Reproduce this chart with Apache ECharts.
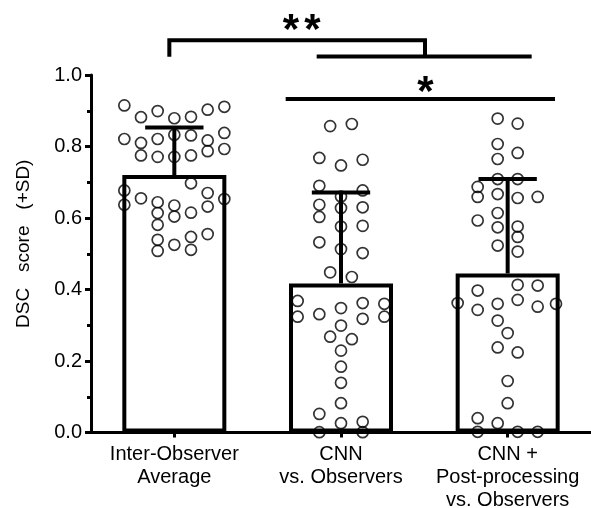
<!DOCTYPE html>
<html>
<head>
<meta charset="utf-8">
<script src="https://cdn.jsdelivr.net/npm/echarts@6/dist/echarts.min.js"></script>
<style>html,body{margin:0;padding:0;background:#fff}#c{width:591px;height:508px}</style>
</head>
<body>
<div id="c"></div>
<script>
// ---- data ----
const categories = ['Inter-Observer\nAverage', 'CNN\nvs. Observers', 'CNN +\nPost-processing\nvs. Observers'];
const means = [0.72, 0.417, 0.445];
const sds = [0.133, 0.254, 0.264];
const yTicks = [0, 0.2, 0.4, 0.6, 0.8, 1.0];

// individual DSC values per group, with horizontal jitter (fraction of category band)
const interObsValues = [0.915,0.882,0.899,0.879,0.883,0.903,0.911,0.821,0.810,0.821,0.833,0.831,0.817,0.838,0.775,0.771,0.771,0.775,0.787,0.793,0.697,0.677,0.637,0.655,0.644,0.635,0.615,0.670,0.632,0.653,0.614,0.604,0.581,0.539,0.508,0.525,0.547,0.511,0.555];
const interObsJitter = [-0.3,-0.2,-0.1,0,0.1,0.2,0.3,-0.3,-0.2,-0.1,0,0.1,0.2,0.3,-0.2,-0.1,0,0.1,0.2,0.3,0.1,-0.3,-0.3,-0.2,-0.1,0,0.1,0.2,0.2,0.3,-0.1,0,-0.1,-0.1,-0.1,0,0.1,0.1,0.2];

const cnnValues = [0.857,0.863,0.768,0.747,0.763,0.690,0.677,0.660,0.637,0.628,0.630,0.603,0.576,0.578,0.532,0.513,0.502,0.448,0.435,0.368,0.324,0.331,0.348,0.362,0.318,0.360,0.324,0.299,0.268,0.261,0.229,0.184,0.139,0.082,0.052,0.001,0.026,0.030,0.001];
const cnnJitter = [-0.065,0.065,-0.13,0,0.13,-0.13,0.13,0,-0.13,0,0.13,-0.13,0,0.13,-0.13,0,0.13,-0.065,0.065,-0.26,-0.26,-0.13,0,0.13,0.13,0.26,0.26,0,-0.065,0.065,0,0,0,0,-0.13,-0.13,0,0.13,0.13];

const cnnPostValues = [0.878,0.864,0.807,0.765,0.782,0.709,0.709,0.687,0.659,0.667,0.656,0.659,0.614,0.593,0.574,0.576,0.547,0.523,0.506,0.413,0.411,0.397,0.371,0.362,0.360,0.343,0.352,0.360,0.313,0.278,0.238,0.224,0.144,0.082,0.040,0.002,0.026,0.002,0.002];
const cnnPostJitter = [-0.06,0.06,-0.06,-0.06,0.06,-0.06,0.06,-0.18,-0.18,-0.06,0.06,0.18,-0.06,-0.18,-0.06,0.06,0.06,-0.06,0.06,0.06,0.18,-0.18,0.06,-0.30,-0.06,-0.18,0.18,0.29,-0.06,0,-0.06,0.06,0,0,-0.18,-0.18,-0.06,0.06,0.18];

// significance annotations
const sigLabels = ['**', '*'];

// ---- build ----
const FONT = 'Liberation Sans';
function pts(idx, vals, jit) { return vals.map((v, i) => [idx + jit[i], v]); }
const scatterData = [].concat(
  pts(0, interObsValues, interObsJitter),
  pts(1, cnnValues, cnnJitter),
  pts(2, cnnPostValues, cnnPostJitter)
);

const chart = echarts.init(document.getElementById('c'), null, {renderer: 'canvas'});
chart.setOption({
  animation: false,
  backgroundColor: '#fff',
  grid: {left: 91, right: 0, top: 75, bottom: 75.5, containLabel: false, outerBoundsMode: 'none'},
  xAxis: [{
    type: 'category',
    data: categories,
    axisLine: {onZero: false, lineStyle: {color: '#000', width: 3}},
    axisTick: {show: true, alignWithLabel: true, length: 5, lineStyle: {color: '#000', width: 3}},
    axisLabel: {color: '#000', fontFamily: FONT, fontSize: 20, lineHeight: 23, margin: 10, interval: 0}
  }, {
    type: 'value', min: -0.5, max: 2.5, show: false,
    axisLine: {onZero: false}
  }],
  yAxis: {
    type: 'value', min: 0, max: 1, interval: 0.2,
    name: 'DSC   score   (+SD)', nameLocation: 'middle', nameGap: 58,
    nameTextStyle: {color: '#000', fontFamily: FONT, fontSize: 19, padding: [0, 0, 0, 20]},
    axisLine: {show: true, onZero: false, lineStyle: {color: '#000', width: 3}},
    axisTick: {show: true, length: 6, lineStyle: {color: '#000', width: 3}},
    minorTick: {show: true, splitNumber: 2, length: 4, lineStyle: {color: '#000', width: 3}},
    splitLine: {show: false},
    axisLabel: {color: '#000', fontFamily: FONT, fontSize: 20, margin: 9,
      formatter: v => yTicks.includes(+v.toFixed(1)) ? v.toFixed(1) : ''}
  },
  series: [{
    type: 'bar',
    data: means,
    barWidth: 104,
    itemStyle: {color: '#fff', borderColor: '#000', borderWidth: 4},
    z: 2
  }, {
    type: 'custom',
    data: means.map((m, i) => [i, m, sds[i]]),
    encode: {x: 0, y: 1},
    z: 3,
    renderItem: function (params, api) {
      const x = api.value(0), m = api.value(1), s = api.value(2);
      const p0 = api.coord([x, m]);
      const p1 = api.coord([x, m + s]);
      const half = api.size([1, 0])[0] * 0.175;
      return {type: 'group', children: [
        {type: 'line', shape: {x1: p0[0], y1: p0[1], x2: p1[0], y2: p1[1]}, style: {stroke: '#000', lineWidth: 4}},
        {type: 'line', shape: {x1: p1[0] - half, y1: p1[1], x2: p1[0] + half, y2: p1[1]}, style: {stroke: '#000', lineWidth: 4}}
      ]};
    }
  }, {
    type: 'scatter',
    xAxisIndex: 1,
    data: scatterData,
    symbol: 'circle',
    symbolSize: 11,
    itemStyle: {color: 'rgba(255,255,255,0)', borderColor: '#000', borderWidth: 1.7},
    z: 4
  }]
});

// significance brackets (positions in data units of the scatter coordinate system)
function P(x, y) { return chart.convertToPixel({seriesIndex: 2}, [x, y]); }
const LW = 4;
const a = P(-0.03, 1.051), b = P(-0.03, 1.0975), c = P(1.504, 1.0975), d = P(1.504, 1.052);
const l2a = P(0.854, 1.052), l2b = P(2.144, 1.052);
const l3a = P(0.668, 0.933), l3b = P(2.284, 0.933);
const s1 = P(0.699, 1.145), s2 = P(0.829, 1.145), s3 = P(1.507, 0.971);
const star = (p, t) => ({type: 'text', x: p[0], y: p[1], z: 10,
  style: {text: t, fill: '#000', font: 'bold 42px "Liberation Sans"', align: 'center', verticalAlign: 'middle'}});
const starOff = 8;
chart.setOption({graphic: [
  {type: 'polyline', shape: {points: [a, b, c, d]}, style: {stroke: '#000', lineWidth: LW, fill: null}, z: 10},
  {type: 'line', shape: {x1: l2a[0], y1: l2a[1], x2: l2b[0], y2: l2b[1]}, style: {stroke: '#000', lineWidth: LW}, z: 10},
  {type: 'line', shape: {x1: l3a[0], y1: l3a[1], x2: l3b[0], y2: l3b[1]}, style: {stroke: '#000', lineWidth: LW}, z: 10},
  star([s1[0], s1[1] + starOff], sigLabels[0][0]),
  star([s2[0], s2[1] + starOff], sigLabels[0][1]),
  star([s3[0], s3[1] + starOff], sigLabels[1])
]});
</script>
</body>
</html>
